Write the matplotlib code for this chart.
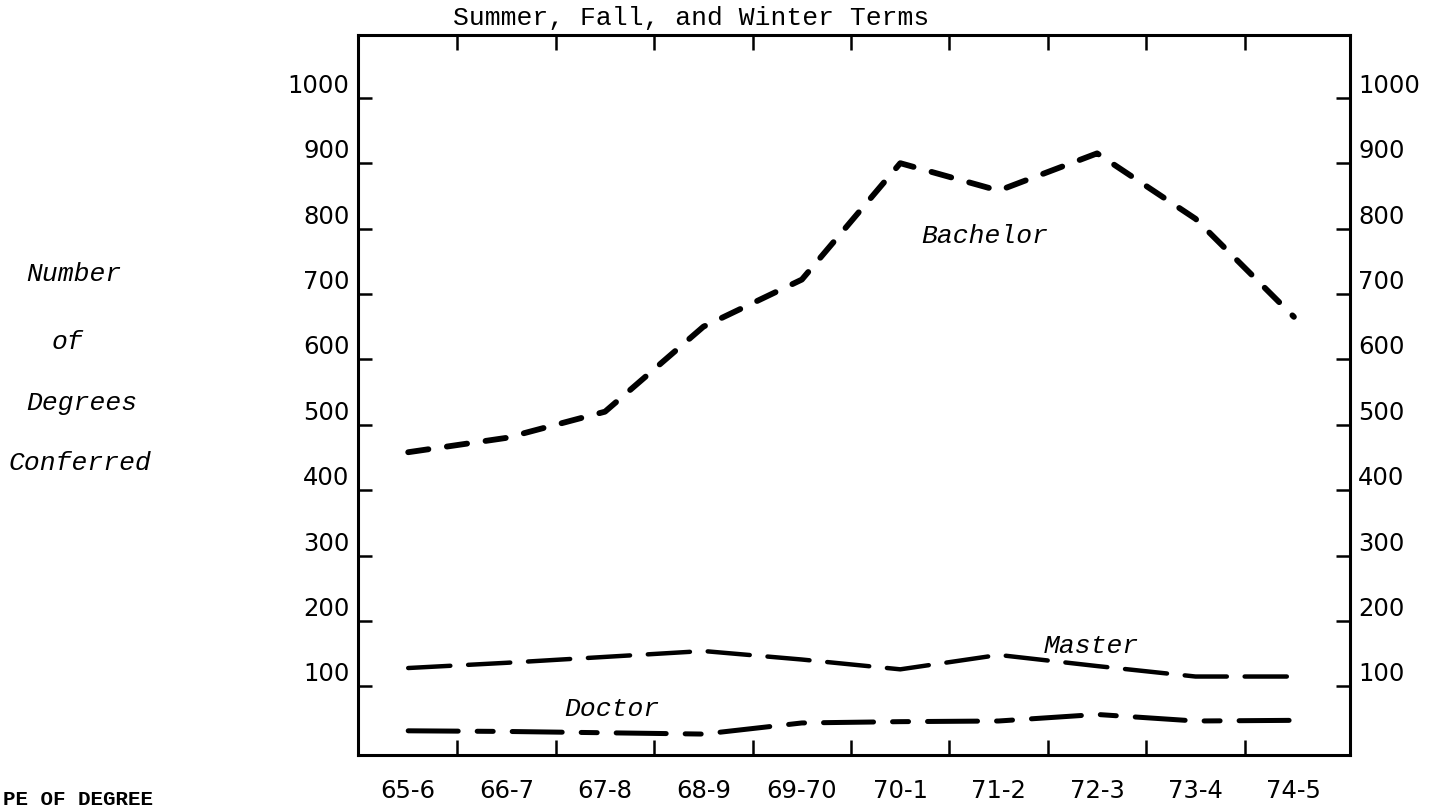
import matplotlib
matplotlib.use("Agg")
import matplotlib.pyplot as plt
import numpy as np

# ---- data ----
years = ["65-6", "66-7", "67-8", "68-9", "69-70", "70-1", "71-2", "72-3", "73-4", "74-5"]
bachelor = [458, 480, 520, 650, 722, 900, 858, 915, 815, 665]
master = [128, 136, 145, 154, 141, 126, 148, 131, 115, 115]
doctor = [32, 31, 29, 27, 44, 46, 47, 57, 47, 48]
y_ticks = [100, 200, 300, 400, 500, 600, 700, 800, 900, 1000]
title = "Summer, Fall, and Winter Terms"
ylabel_lines = ["Number", "of", "Degrees", "Conferred"]
caption = "PE OF DEGREE"

W, H = 1442, 808
fig = plt.figure(figsize=(W / 100, H / 100), dpi=100)
fig.patch.set_facecolor("white")

ax_l, ax_r, ax_t, ax_b = 358, 1350, 35, 755
ax = fig.add_axes([ax_l / W, 1 - ax_b / H, (ax_r - ax_l) / W, (ax_b - ax_t) / H])

mono = "Liberation Mono"
sans = "DejaVu Sans"

x = np.arange(len(years))
ax.plot(x, bachelor, color="black", lw=4.2, dashes=(3.5, 3.2), dash_capstyle="round")
ax.plot(x, master, color="black", lw=3.2, dashes=(9.5, 4.0), dash_capstyle="round")
ax.plot(x, doctor, color="black", lw=3.6, dashes=(10, 3.8, 3.2, 3.8), dash_capstyle="round")

ax.set_xlim(-0.51, 9.57)
ax.set_ylim(-5, 1096)

# x ticks: marks between categories, labels at categories
ax.set_xticks(x[:-1] + 0.5)
ax.set_xticklabels([])
ax.set_xticks(x, minor=True)
ax.set_xticklabels(years, minor=True, fontfamily=sans, fontsize=17.5)
ax.tick_params(axis="x", which="major", direction="in", length=11, width=1.8,
               top=True, bottom=True, labelbottom=False)
ax.tick_params(axis="x", which="minor", length=0, pad=17)

ax.set_yticks(y_ticks)
ax.set_yticklabels([str(v) for v in y_ticks], fontfamily=sans, fontsize=17.5)
ax.tick_params(axis="y", direction="in", length=10, width=1.8, left=True, right=True,
               labelleft=True, labelright=True, pad=6)
for t in ax.yaxis.get_major_ticks():
    t.label1.set_verticalalignment("bottom")
    t.label2.set_verticalalignment("bottom")

for s in ax.spines.values():
    s.set_linewidth(2.2)

# series annotations
ann = dict(fontfamily=mono, style="italic", fontsize=19, va="center", ha="left")
ax.text(5.21, 789, "Bachelor", **ann)
ax.text(6.46, 162, "Master", **ann)
ax.text(1.585, 66, "Doctor", **ann)

# title and side label
fig.text(453 / W, 1 - 18 / H, title, fontfamily=mono, fontsize=19, ha="left", va="center")
ylab_pos = [(74, 274), (67, 342), (82, 403), (80, 463)]
for (px, py), s in zip(ylab_pos, ylabel_lines):
    fig.text(px / W, 1 - py / H, s, fontfamily=mono, style="italic", fontsize=19,
             ha="center", va="center")

fig.text(3 / W, 1 - 790 / H, caption, fontfamily=mono, fontweight="bold", fontsize=15,
         ha="left", va="top")

fig.savefig("out.png", dpi=100)
